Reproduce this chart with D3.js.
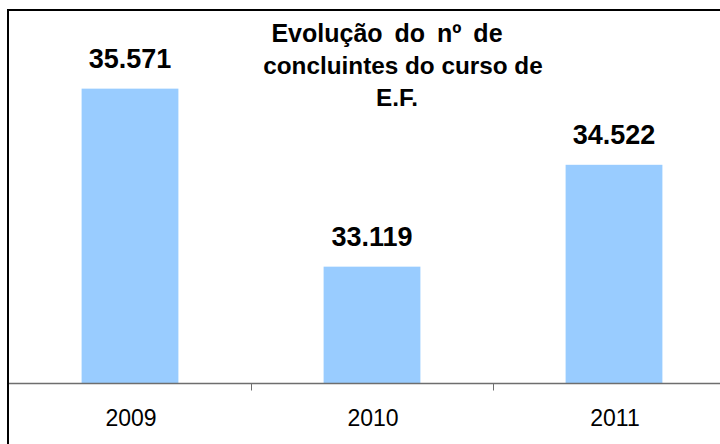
<!DOCTYPE html>
<html>
<head>
<meta charset="utf-8">
<script src="https://cdn.jsdelivr.net/npm/d3@7/dist/d3.min.js"></script>
<style>
  html, body { margin: 0; padding: 0; background: #fff; }
  svg { display: block; }
</style>
</head>
<body>
<svg id="chart" width="720" height="444"></svg>
<script>
const categories = ["2009", "2010", "2011"];
const values = [35571, 33119, 34522];
const valueLabels = ["35.571", "33.119", "34.522"];
const titleLines = ["Evolução do nº de", "concluintes do curso de", "E.F."];
const yDomain = [31500, 36000];

const svg = d3.select("#chart");
const W = 720, H = 444;
const font = "Arial, 'Liberation Sans', sans-serif";

svg.append("rect").attr("width", W).attr("height", H).attr("fill", "#fff");

const x = d3.scaleBand().domain(categories).range([9, 735])
  .paddingInner(0.6).paddingOuter(0.3);
const y = d3.scaleLinear().domain(yDomain).range([384.2, 57.5]);
const baseY = 383.5;

// bars
svg.selectAll("rect.bar").data(values).join("rect")
  .attr("class", "bar")
  .attr("x", (d, i) => x(categories[i]))
  .attr("width", x.bandwidth())
  .attr("y", d => y(d))
  .attr("height", d => baseY - y(d))
  .attr("fill", "#99CCFF");

// value labels
svg.selectAll("text.val").data(values).join("text")
  .attr("class", "val")
  .attr("x", (d, i) => x(categories[i]) + x.bandwidth() / 2)
  .attr("y", d => y(d) - 21)
  .attr("text-anchor", "middle")
  .attr("font-family", font)
  .attr("font-weight", "bold")
  .attr("font-size", "27px")
  .attr("fill", "#000")
  .text((d, i) => valueLabels[i]);

// x axis line
svg.append("line")
  .attr("x1", 8).attr("x2", W)
  .attr("y1", baseY).attr("y2", baseY)
  .attr("stroke", "#6e6e6e").attr("stroke-width", 1.5);

// ticks at band boundaries
const step = x.step();
const boundaries = categories.slice(1).map(c => x(c) - x.paddingInner() * step / 2);
svg.selectAll("line.tick").data(boundaries).join("line")
  .attr("class", "tick")
  .attr("x1", d => Math.round(d) + 0.5).attr("x2", d => Math.round(d) + 0.5)
  .attr("y1", baseY).attr("y2", baseY + 7)
  .attr("stroke", "#6e6e6e").attr("stroke-width", 1);

// category labels
svg.selectAll("text.cat").data(categories).join("text")
  .attr("class", "cat")
  .attr("x", d => x(d) + x.bandwidth() / 2 + 1)
  .attr("y", 426)
  .attr("text-anchor", "middle")
  .attr("font-family", font)
  .attr("font-size", "23px")
  .attr("fill", "#000")
  .text(d => d);

// title
const titleX = [387, 403, 397];
const titleSize = [25, 24.3, 24.3];
const titleWordSpacing = [5, 0, 0];
svg.selectAll("text.title").data(titleLines).join("text")
  .attr("class", "title")
  .attr("x", (d, i) => titleX[i])
  .attr("y", (d, i) => 42 + i * 32)
  .attr("text-anchor", "middle")
  .attr("font-family", font)
  .attr("font-weight", "bold")
  .attr("font-size", (d, i) => titleSize[i] + "px")
  .attr("word-spacing", (d, i) => titleWordSpacing[i])
  .attr("fill", "#000")
  .text(d => d);

// chart border (extends beyond right/bottom edges)
svg.append("rect")
  .attr("x", 8).attr("y", 10)
  .attr("width", W + 20).attr("height", H + 20)
  .attr("fill", "none")
  .attr("stroke", "#000").attr("stroke-width", 2);
</script>
</body>
</html>
